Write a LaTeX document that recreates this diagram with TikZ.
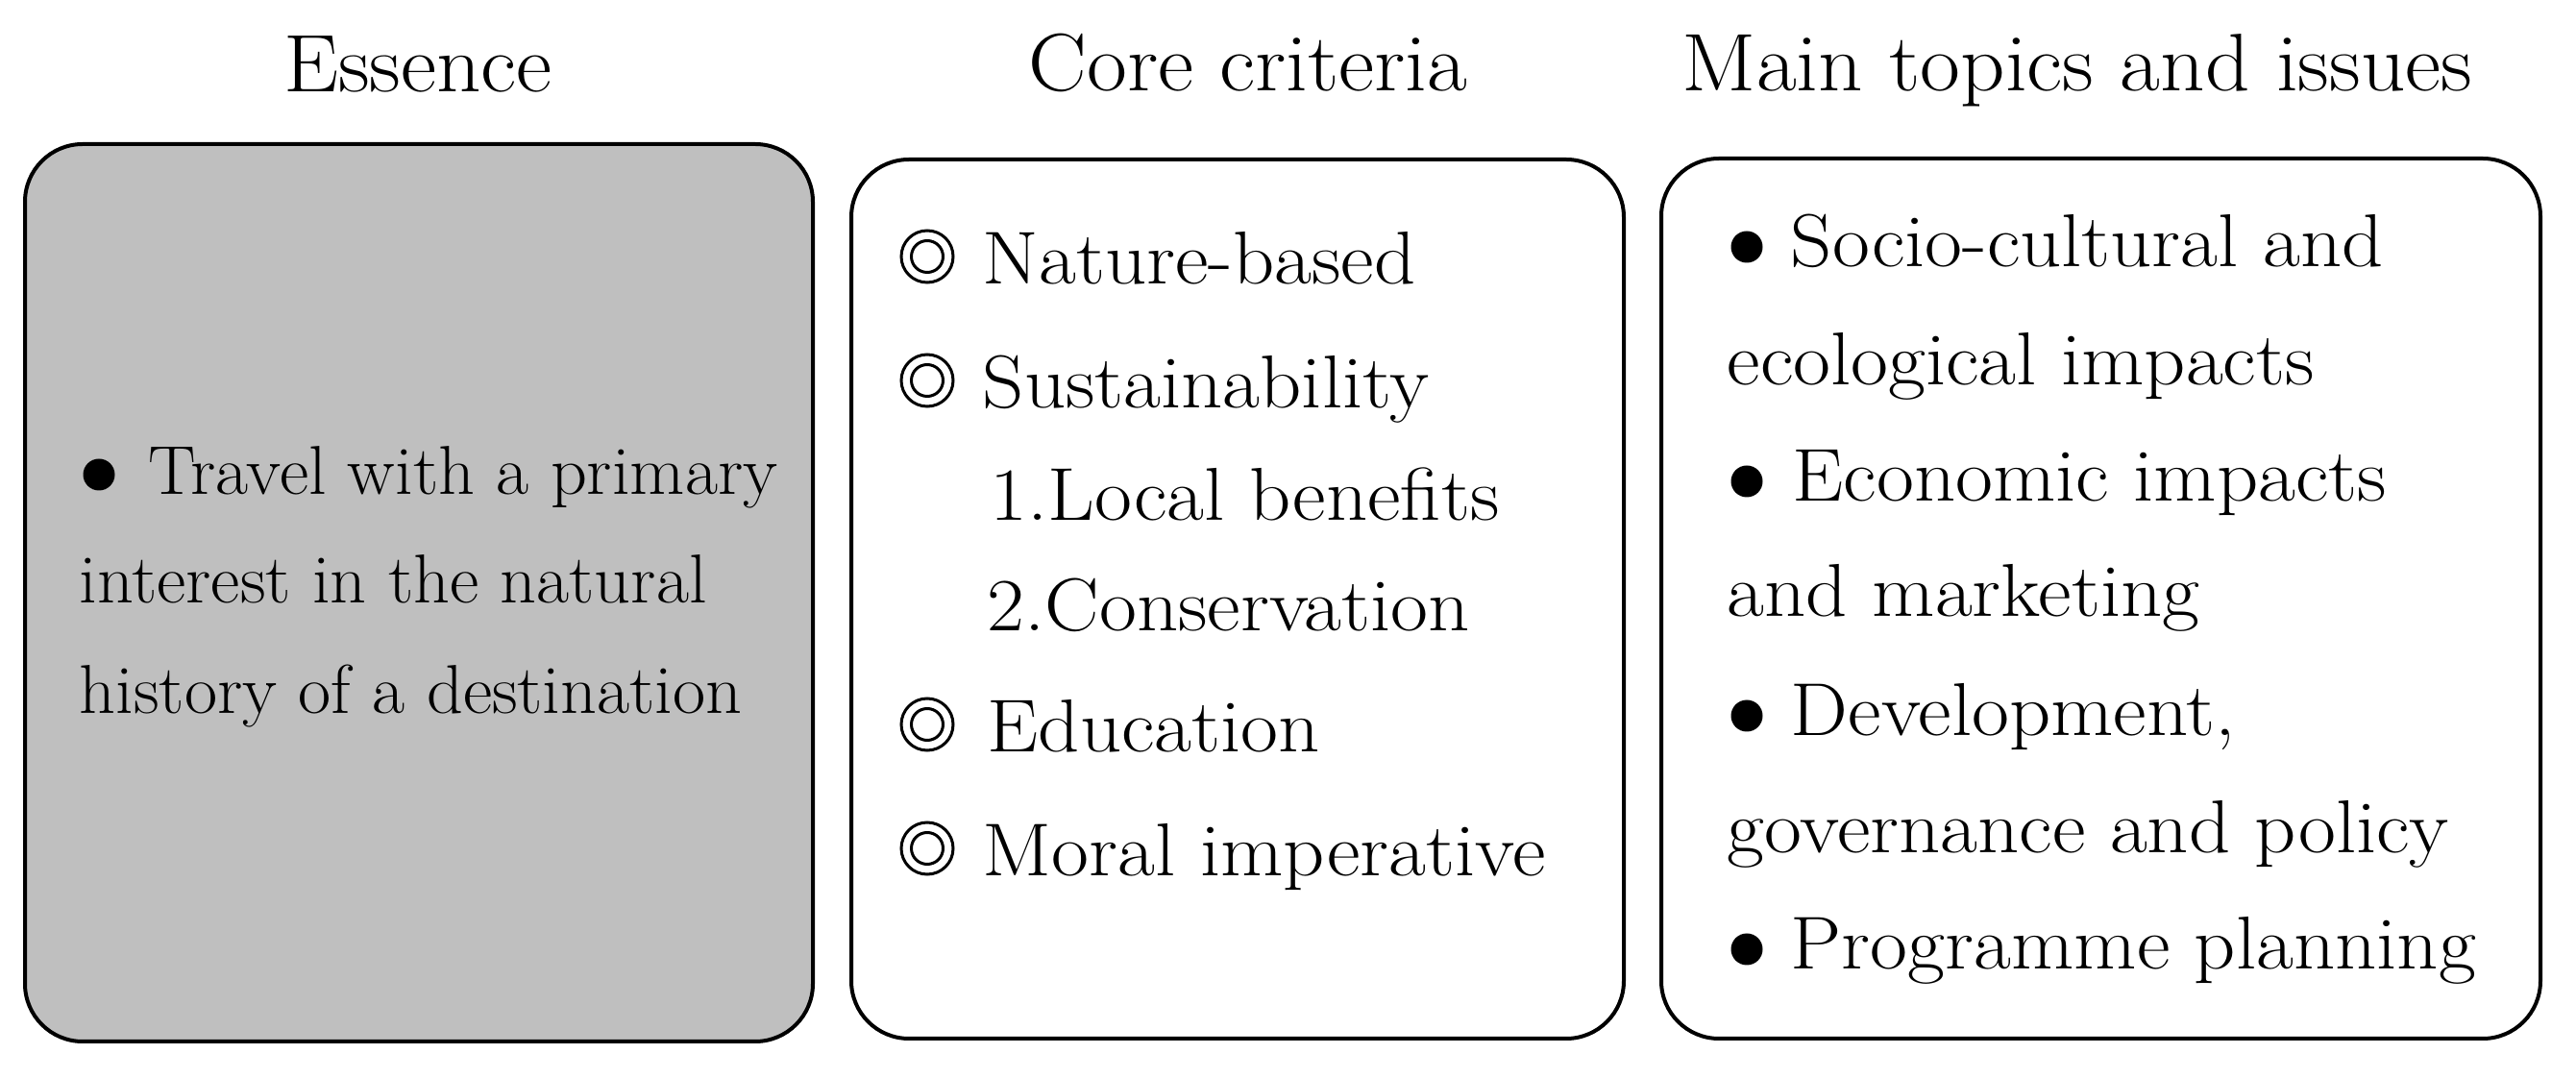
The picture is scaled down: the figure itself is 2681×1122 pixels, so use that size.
\documentclass[tikz,border=0pt]{standalone}
\usepackage{graphicx}
\definecolor{boxgray}{RGB}{191,191,191}
\newcommand\tw[1]{\scalebox{1.07}[1]{#1}}
\newcommand\bw[1]{\scalebox{1.085}[1]{#1}}
\newcommand\ew[1]{\scalebox{1.03}[1]{#1}}
\begin{document}
\begin{tikzpicture}[x=0.25pt,y=-0.25pt,
  panel/.style={draw=black, line width=1pt, rounded corners=15pt, inner sep=0pt},
  title/.style={font=\fontsize{21.25}{25}\selectfont, inner sep=0pt, anchor=base},
  txt/.style={font=\fontsize{19.5}{23}\selectfont, inner sep=0pt, anchor=base west},
  esstxt/.style={font=\fontsize{18}{21}\selectfont, inner sep=0pt, anchor=base west},
  dot/.style={circle, fill=black, inner sep=0pt, minimum size=8.25pt},
  ringout/.style={circle, draw=black, line width=0.75pt, inner sep=0pt, minimum size=13.5pt},
  ringin/.style={circle, draw=black, line width=0.75pt, inner sep=0pt, minimum size=8.25pt}]
\useasboundingbox (0,0) rectangle (2681,1122);

% titles
\node[title] (t1) at (435,96) {\tw{Essence}};
\node[title] (t2) at (1299,95) {\tw{Core criteria}};
\node[title] (t3) at (2162,95) {\tw{Main topics and issues}};

% panels
\node[panel, fill=boxgray, minimum width=205pt, minimum height=233.5pt] (p1) at (436,617) {};
\node[panel, fill=white, minimum width=201pt, minimum height=228.75pt] (p2) at (1288,623.5) {};
\node[panel, fill=white, minimum width=228.75pt, minimum height=229pt] (p3) at (2186.5,623) {};

% panel 1
\node[dot] (e0) at (103,494) {};
\node[esstxt] (e1) at (154,515) {\ew{Travel with a primary}};
\node[esstxt] (e2) at (82,628) {\ew{interest in the natural}};
\node[esstxt] (e3) at (82,743) {\ew{history of a destination}};

% panel 2
\node[ringout] (r1) at (965,267) {};
\node[ringin] (r1i) at (r1.center) {};
\node[txt] (c1) at (1022,296) {\bw{Nature-based}};
\node[ringout] (r2) at (965,396) {};
\node[ringin] (r2i) at (r2.center) {};
\node[txt] (c2) at (1022,425) {\bw{Sustainability}};
\node[txt] (c3) at (1030,542) {\bw{1.Local benefits}};
\node[txt] (c4) at (1027,657) {\bw{2.Conservation}};
\node[ringout] (r3) at (965,754) {};
\node[ringin] (r3i) at (r3.center) {};
\node[txt] (c5) at (1027,783) {\bw{Education}};
\node[ringout] (r4) at (965,883) {};
\node[ringin] (r4i) at (r4.center) {};
\node[txt] (c6) at (1022,912) {\bw{Moral imperative}};

% panel 3
\node[dot] (m1d) at (1818,257) {};
\node[txt] (m1) at (1863,278) {\bw{Socio-cultural and}};
\node[txt] (m1b) at (1797,401) {\bw{ecological impacts}};
\node[dot] (m2d) at (1818,501) {};
\node[txt] (m2) at (1865,522) {\bw{Economic impacts}};
\node[txt] (m2b) at (1797,642) {\bw{and marketing}};
\node[dot] (m3d) at (1818,745) {};
\node[txt] (m3) at (1863,766) {\bw{Development,}};
\node[txt] (m3b) at (1797,888) {\bw{governance and policy}};
\node[dot] (m4d) at (1818,988) {};
\node[txt] (m4) at (1863,1009) {\bw{Programme planning}};
\end{tikzpicture}
\end{document}
